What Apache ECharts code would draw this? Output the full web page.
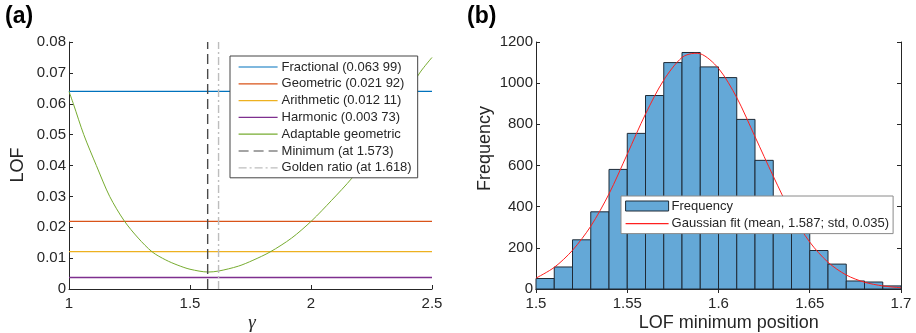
<!DOCTYPE html>
<html>
<head>
<meta charset="utf-8">
<script src="https://cdn.jsdelivr.net/npm/echarts@6/dist/echarts.min.js"></script>
<style>
  html, body { margin: 0; padding: 0; background: #fff; }
  #chart { width: 916px; height: 333px; }
</style>
</head>
<body>
<div id="chart"></div>
<script>
// ---- panel (a): LOF vs gamma ----
const refNames = ["Fractional (0.063 99)", "Geometric (0.021 92)", "Arithmetic (0.012 11)", "Harmonic (0.003 73)"];
const refValues = [0.06399, 0.02192, 0.01211, 0.00373];
const refColors = ["#0072bd", "#d95319", "#edb120", "#7e2f8e"];

// adaptable geometric curve: [gamma, LOF]
const adaptGamma = [1.000, 1.018, 1.061, 1.113, 1.168, 1.228, 1.286, 1.344, 1.400, 1.450, 1.500, 1.575,
                    1.617, 1.700, 1.760, 1.831, 1.920, 2.003, 2.085, 2.169, 2.300, 2.400, 2.452, 2.500];
const adaptLOF = [0.0640, 0.0600, 0.0500, 0.0400, 0.0300, 0.0221, 0.0165, 0.0120, 0.0094, 0.0077, 0.0064, 0.0055,
                  0.0058, 0.0074, 0.0093, 0.0120, 0.0165, 0.0221, 0.0287, 0.0359, 0.0490, 0.0637, 0.0703, 0.0750];

const minimumAt = 1.573;
const goldenAt = 1.618;

// ---- panel (b): histogram of minimum positions ----
const binEdges = [1.50, 1.51, 1.52, 1.53, 1.54, 1.55, 1.56, 1.57, 1.58, 1.59, 1.60,
                  1.61, 1.62, 1.63, 1.64, 1.65, 1.66, 1.67, 1.68, 1.69, 1.70];
const binCounts = [51, 107, 239, 375, 581, 756, 940, 1100, 1149, 1079,
                   1027, 824, 625, 448, 295, 187, 121, 39, 34, 15];

const fitX = [1.50, 1.51, 1.52, 1.53, 1.54, 1.55, 1.56, 1.57, 1.58, 1.587, 1.59, 1.60,
              1.61, 1.62, 1.63, 1.64, 1.65, 1.66, 1.67, 1.68, 1.69, 1.70];
const fitY = [53, 105, 188, 305, 462, 655, 850, 1015, 1125, 1145, 1143, 1072,
              930, 740, 548, 368, 228, 130, 68, 33, 15, 6];

const FONT = "'Liberation Sans', Arial, Helvetica, sans-serif";
const AX = "#262626";

function axisCommon(extra) {
  return Object.assign({
    axisLine: { show: true, lineStyle: { color: AX, width: 1 } },
    axisTick: { show: true, inside: true, length: 4, lineStyle: { color: AX } },
    splitLine: { show: false },
    axisLabel: { color: AX, fontSize: 15, fontFamily: FONT }
  }, extra);
}

const series = [];

refValues.forEach((v, i) => {
  series.push({
    name: refNames[i],
    type: "line",
    xAxisIndex: 0, yAxisIndex: 0,
    symbol: "none",
    data: [[1, v], [2.5, v]],
    lineStyle: { color: refColors[i], width: 1.3 },
    itemStyle: { color: refColors[i] },
    z: 3
  });
});

series.push({
  name: "Adaptable geometric",
  type: "line",
  xAxisIndex: 0, yAxisIndex: 0,
  symbol: "none",
  smooth: 0.3,
  data: adaptGamma.map((g, i) => [g, adaptLOF[i]]),
  lineStyle: { color: "#77ac30", width: 1 },
  itemStyle: { color: "#77ac30" },
  z: 4
});

series.push({
  name: "Minimum (at 1.573)",
  type: "line",
  xAxisIndex: 0, yAxisIndex: 0,
  symbol: "none",
  data: [[minimumAt, 0], [minimumAt, 0.08]],
  lineStyle: { color: "#4a4a4a", width: 1.4, type: [10, 5] },
  itemStyle: { color: "#4a4a4a" },
  z: 5
});

series.push({
  name: "Golden ratio (at 1.618)",
  type: "line",
  xAxisIndex: 0, yAxisIndex: 0,
  symbol: "none",
  data: [[goldenAt, 0], [goldenAt, 0.08]],
  lineStyle: { color: "#bdbdbd", width: 1.4, type: [8, 3, 2, 3] },
  itemStyle: { color: "#bdbdbd" },
  z: 5
});

// histogram bars, drawn through the value axes
series.push({
  name: "Frequency",
  type: "custom",
  xAxisIndex: 1, yAxisIndex: 1,
  data: binCounts.map((c, i) => [binEdges[i], binEdges[i + 1], c]),
  renderItem: function (params, api) {
    const p0 = api.coord([api.value(0), api.value(2)]);
    const p1 = api.coord([api.value(1), 0]);
    return {
      type: "rect",
      shape: { x: p0[0], y: p0[1], width: p1[0] - p0[0], height: p1[1] - p0[1] },
      style: { fill: "#64a8d7", stroke: "#1e2a36", lineWidth: 1 }
    };
  },
  itemStyle: { color: "#64a8d7" },
  z: 2
});

series.push({
  name: "Gaussian fit (mean, 1.587; std, 0.035)",
  type: "line",
  xAxisIndex: 1, yAxisIndex: 1,
  symbol: "none",
  smooth: 0.3,
  data: fitX.map((x, i) => [x, fitY[i]]),
  lineStyle: { color: "#ff2020", width: 1 },
  itemStyle: { color: "#ff2020" },
  z: 4
});

const option = {
  animation: false,
  backgroundColor: "#fff",
  textStyle: { fontFamily: FONT },
  grid: [
    { left: 69, top: 42, width: 363, height: 247, containLabel: false },
    { left: 536, top: 42, width: 365, height: 247, containLabel: false }
  ],
  xAxis: [
    axisCommon({
      gridIndex: 0, type: "value", min: 1, max: 2.5, interval: 0.5,
      axisLabel: { color: AX, fontSize: 15, fontFamily: FONT, margin: 7 }
    }),
    axisCommon({
      gridIndex: 1, type: "value", min: 1.5, max: 1.7, interval: 0.05,
      axisLabel: { color: AX, fontSize: 15, fontFamily: FONT, margin: 7,
        formatter: v => String(+v.toFixed(2)) }
    }),
    axisCommon({
      gridIndex: 1, type: "value", min: 1.5, max: 1.7, interval: 0.05, position: "top",
      axisLabel: { show: false }
    })
  ],
  yAxis: [
    axisCommon({
      gridIndex: 0, type: "value", min: 0, max: 0.08, interval: 0.01,
      axisLabel: { color: AX, fontSize: 15, fontFamily: FONT, margin: 3,
        formatter: v => String(+v.toFixed(2)) }
    }),
    axisCommon({
      gridIndex: 1, type: "value", min: 0, max: 1200, interval: 200,
      axisLabel: { color: AX, fontSize: 15, fontFamily: FONT, margin: 3,
        formatter: v => String(v) }
    }),
    axisCommon({
      gridIndex: 1, type: "value", min: 0, max: 1200, interval: 200, position: "right",
      axisLabel: { show: false }
    })
  ],
  legend: [
    {
      orient: "vertical",
      left: 230, top: 56,
      padding: [3, 6, 2, 8],
      itemWidth: 39, itemHeight: 10, itemGap: 0.8,
      backgroundColor: "#fff",
      borderColor: "#444", borderWidth: 1, borderRadius: 0,
      itemStyle: { opacity: 0 },
      lineStyle: { width: 1.2 },
      textStyle: { color: AX, fontSize: 13, fontFamily: FONT, lineHeight: 16, padding: [0, 0, 0, -1] },
      data: refNames.concat(["Adaptable geometric", "Minimum (at 1.573)", "Golden ratio (at 1.618)"]),
      z: 10
    },
    {
      orient: "vertical",
      left: 621, top: 196,
      padding: [2, 4, 2, 4],
      itemWidth: 43, itemHeight: 10, itemGap: 1.6,
      backgroundColor: "#fff",
      borderColor: "#8a8a8a", borderWidth: 1, borderRadius: 0,
      lineStyle: { width: 1.2 },
      textStyle: { color: AX, fontSize: 13, fontFamily: FONT, lineHeight: 16, padding: [0, 0, 0, -2] },
      data: [
        { name: "Frequency", icon: "rect", itemStyle: { color: "#64a8d7", borderColor: "#1e2a36", borderWidth: 1, opacity: 1 } },
        { name: "Gaussian fit (mean, 1.587; std, 0.035)", itemStyle: { opacity: 0 } }
      ],
      z: 10
    }
  ],
  graphic: [
    { type: "text", left: 5, top: 5, style: { text: "(a)", font: "bold 23px " + FONT, fill: "#000" } },
    { type: "text", left: 467, top: 5, style: { text: "(b)", font: "bold 23px " + FONT, fill: "#000" } },
    { type: "text", x: 18.5, y: 165, rotation: Math.PI / 2,
      style: { text: "LOF", font: "18px " + FONT, fill: AX, align: "center", verticalAlign: "middle" } },
    { type: "text", x: 252, y: 323,
      style: { text: "γ", font: "italic 19px 'Liberation Serif', 'DejaVu Serif', serif", fill: AX, align: "center", verticalAlign: "middle" } },
    { type: "text", x: 485, y: 148.5, rotation: Math.PI / 2,
      style: { text: "Frequency", font: "18px " + FONT, fill: AX, align: "center", verticalAlign: "middle" } },
    { type: "text", x: 728.7, y: 323,
      style: { text: "LOF minimum position", font: "18px " + FONT, fill: AX, align: "center", verticalAlign: "middle" } }
  ],
  series: series
};

const chart = echarts.init(document.getElementById("chart"), null, { renderer: "canvas" });
chart.setOption(option);
</script>
</body>
</html>
